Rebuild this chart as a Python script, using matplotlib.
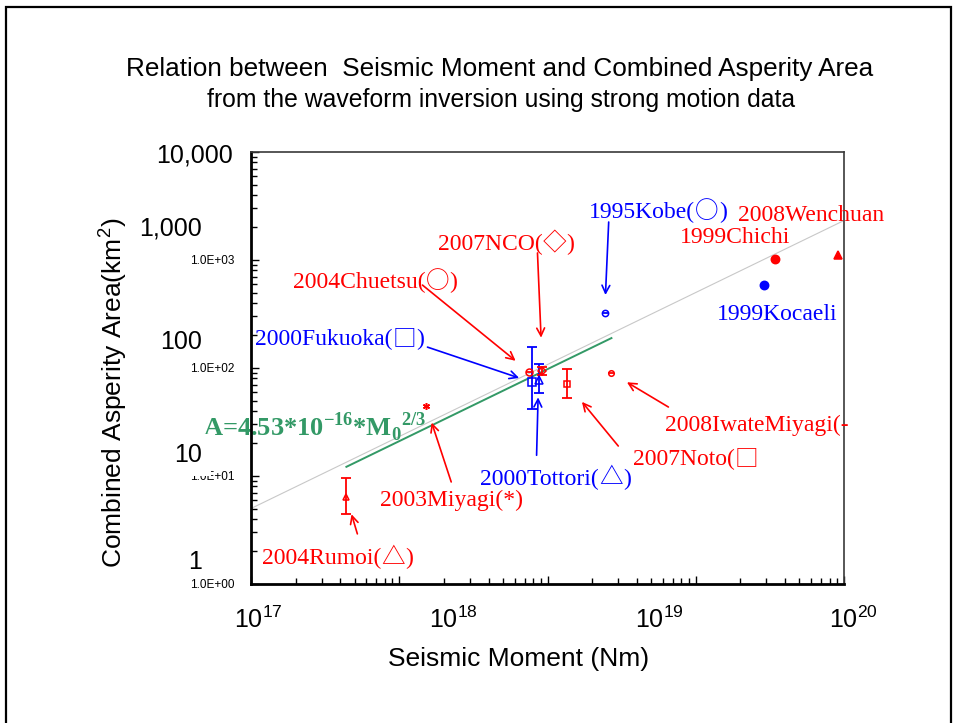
import numpy as np
import matplotlib
matplotlib.use('Agg')
import matplotlib.pyplot as plt
from matplotlib import font_manager
from matplotlib.patches import Rectangle
from matplotlib.ticker import LogLocator, FuncFormatter, NullFormatter

plt.rcParams['mathtext.fontset'] = 'custom'
plt.rcParams['mathtext.rm'] = 'Liberation Sans'
plt.rcParams['mathtext.bf'] = 'Liberation Serif:bold'

# seismic moment (Nm) and combined asperity area (km^2) per event
events = ['2004Rumoi', '2003Miyagi', '2000Fukuoka', '2000Tottori', '2004Chuetsu',
          '2007NCO', '2007Noto', '2008IwateMiyagi', '1995Kobe', '1999Chichi',
          '1999Kocaeli', '2008Wenchuan']
moment = [4.4e17, 1.52e18, 7.8e18, 8.7e18, 7.55e18,
          9.25e18, 1.36e19, 2.7e19, 2.43e19, 3.42e20,
          2.88e20, 9.1e20]
area = [6.4, 44.5, 74, 77, 91.8,
        93.8, 71, 89.9, 323, 1021,
        587, 1112]
area_low = [4.45, None, 41.7, 58.7, None, 86, 52.7, None, None, None, None, None]
area_high = [9.6, None, 156, 109, None, 102, 98, None, None, None, None, None]

# A = c * M0^(2/3), M0 in dyne-cm
somerville_coef = 5.0e-16
fit_coef = 4.53e-16
fit_range = [4.4e17, 2.7e19]

x_labels = ['17', '18', '19', '20']
y_labels = ['1', '10', '100', '1,000', '10,000']

RED = '#ff0000'
BLUE = '#0000ff'
GREEN = '#339966'
SERIF = 'Liberation Serif'
SYMBOL_FONT = 'Noto Sans CJK JP'
SYMBOLS = '○◇□△'

installed = {f.name for f in font_manager.fontManager.ttflist}
if 'Liberation Sans Narrow' in installed:
    TITLE_FONT, title_size, sub_size = 'Liberation Sans Narrow', 22.5, 20.5
else:
    TITLE_FONT, title_size, sub_size = 'Liberation Sans', 18.8, 17.8


def asperity_area(m0_nm, coef):
    return coef * (np.asarray(m0_nm) * 1e7) ** (2.0 / 3.0)


def split_label(text):
    # pieces of a label, with the shape symbols set in a CJK font so they come out full width
    parts, cur = [], ''
    for ch in text:
        if ch in SYMBOLS:
            if cur:
                parts.append((cur, SERIF))
            parts.append((ch, SYMBOL_FONT))
            cur = ''
        else:
            cur += ch
    if cur:
        parts.append((cur, SERIF))
    return parts


def place_label(ax, x, y, text, color, size=17):
    parts = split_label(text)
    prev = ax.text(x, y, parts[0][0], transform=ax.transAxes, color=color, fontsize=size,
                   family=parts[0][1], ha='left', va='center', clip_on=False, zorder=5)
    for s, fam in parts[1:]:
        prev = ax.annotate(s, xy=(1, 0), xycoords=prev, color=color, fontsize=size,
                           family=fam, ha='left', va='bottom', annotation_clip=False, zorder=5)


fig = plt.figure(figsize=(9.55, 7.23), dpi=100)
ax = fig.add_axes([251 / 955, 1 - 584 / 723, 593 / 955, 432 / 723])
ax.set_xscale('log')
ax.set_yscale('log')
ax.set_xlim(1e17, 1e21)
ax.set_ylim(1, 1e4)

# outer frame of the slide
fig.add_artist(Rectangle((6 / 955, -0.05), 945 / 955, 1.05 - 7 / 723,
                         transform=fig.transFigure, fill=False, lw=1.6, ec='black'))

# scaling lines
xx = np.array(ax.get_xlim())
ax.plot(xx, asperity_area(xx, somerville_coef), color='#c8c8c8', lw=0.8, zorder=1)
xf = np.array(fit_range)
ax.plot(xf, asperity_area(xf, fit_coef), color=GREEN, lw=1.4, zorder=2)

styles = {
    '2004Rumoi': dict(color=RED, marker='^', mfc='none', ms=4.5),
    '2003Miyagi': dict(color=RED, marker=(6, 2, 0), ms=5),
    '2000Fukuoka': dict(color=BLUE, marker='s', mfc='none', ms=5.5),
    '2000Tottori': dict(color=BLUE, marker='^', mfc='none', ms=6),
    '2004Chuetsu': dict(color=RED, marker='o', mfc='none', ms=5),
    '2007NCO': dict(color=RED, marker='D', mfc='none', ms=4),
    '2007Noto': dict(color=RED, marker='s', mfc='none', ms=5),
    '2008IwateMiyagi': dict(color=RED, marker='o', mfc='none', ms=4),
    '1995Kobe': dict(color=BLUE, marker='o', mfc='none', ms=4.5),
    '1999Chichi': dict(color=RED, marker='o', ms=6),
    '1999Kocaeli': dict(color=BLUE, marker='o', ms=6),
    '2008Wenchuan': dict(color=RED, marker='^', ms=6),
}
theta = {'2004Chuetsu', '2008IwateMiyagi', '1995Kobe'}

for name, m, a, lo, hi in zip(events, moment, area, area_low, area_high):
    st = styles[name]
    if lo is not None:
        ax.errorbar([m], [a], yerr=[[a - lo], [hi - a]], fmt='none',
                    ecolor=st['color'], elinewidth=1.3, capsize=3.5, capthick=1.3, zorder=3)
    ax.plot([m], [a], linestyle='none', mew=1.1, zorder=4, **st)
    if name in theta:
        ax.plot([m], [a], linestyle='none', marker='_', color=st['color'],
                ms=st['ms'], mew=1.3, zorder=4)

# labels: (text, colour, left/centre position in axes fraction, event, arrow start offset pts, shrink pts)
notes = [
    ('2004Chuetsu(○)', RED, (0.071, 0.699), '2004Chuetsu', (-77, 62.6), 12.8),
    ('2007NCO(◇)', RED, (0.315, 0.785), '2007NCO', (-3.6, 85), 24),
    ('2000Fukuoka(□)', BLUE, (0.0067, 0.565), '2000Fukuoka', (-74.9, 25.2), 9.4),
    ('1995Kobe(○)', BLUE, (0.570, 0.861), '1995Kobe', (2.9, 65.5), 13),
    ('2003Miyagi(*)', RED, (0.2175, 0.194), '2003Miyagi', (18, -54.7), 12.6),
    ('2000Tottori(△)', BLUE, (0.387, 0.243), '2000Tottori', (-1.4, -54), 12.3),
    ('2007Noto(□', RED, (0.644, 0.288), '2007Noto', (36.7, -44.6), 16.6),
    ('2008IwateMiyagi(-', RED, (0.698, 0.366), '2008IwateMiyagi', (41, -24.5), 13),
    ('2004Rumoi(△)', RED, (0.0185, 0.060), '2004Rumoi', (7.9, -26.6), 13),
    ('2008Wenchuan', RED, (0.821, 0.854), None, None, 0),
    ('1999Chichi', RED, (0.723, 0.801), None, None, 0),
    ('1999Kocaeli', BLUE, (0.786, 0.623), None, None, 0),
]
for text, col, pos, ev, start, shrink in notes:
    place_label(ax, pos[0], pos[1], text, col)
    if ev is not None:
        i = events.index(ev)
        ax.annotate('', xy=(moment[i], area[i]), xytext=start, textcoords='offset points',
                    arrowprops=dict(arrowstyle='->', color=col, lw=1.2,
                                    shrinkA=0, shrinkB=shrink, mutation_scale=14),
                    annotation_clip=False, zorder=5)

ax.text(-0.081, 0.363,
        r'A=4.53*10$^{\mathbf{-16}}$*M$_{\mathbf{0}}$$^{\mathbf{2/3}}$',
        transform=ax.transAxes, color=GREEN, fontsize=19, family='Liberation Serif',
        fontweight='bold', ha='left', va='center', clip_on=False, zorder=2)

# spines and ticks
for side in ['left', 'bottom']:
    ax.spines[side].set_linewidth(2.0)
    ax.spines[side].set_color('black')
for side in ['top', 'right']:
    ax.spines[side].set_linewidth(1.2)
    ax.spines[side].set_color('#3a3a3a')

ax.xaxis.set_major_locator(LogLocator(base=10, numticks=10))
ax.xaxis.set_minor_locator(LogLocator(base=10, subs=np.arange(2, 10), numticks=20))
ax.yaxis.set_major_locator(LogLocator(base=10, numticks=10))
ax.yaxis.set_minor_locator(LogLocator(base=10, subs=np.arange(2, 10), numticks=20))
ax.xaxis.set_major_formatter(NullFormatter())
ax.xaxis.set_minor_formatter(NullFormatter())
ax.yaxis.set_minor_formatter(NullFormatter())
ax.yaxis.set_major_formatter(FuncFormatter(
    lambda v, p: '' if v > 1.5e3 else '1.0E+%02d' % int(round(np.log10(v)))))
ax.tick_params(which='both', direction='in', top=False, right=False, width=1.0)
ax.tick_params(which='major', length=6)
ax.tick_params(which='minor', length=4)
ax.tick_params(axis='y', which='major', labelsize=8.5, pad=12)
for lab in ax.get_yticklabels():
    lab.set_family('Liberation Sans')

# decade labels
x_pos = [0.013, 0.342, 0.688, 1.015]
for fx, e in zip(x_pos, x_labels):
    ax.text(fx, -0.083, '10$^{%s}$' % e, transform=ax.transAxes, fontsize=18,
            family='Liberation Sans', ha='center', va='center', clip_on=False)
y_pos = [0.051, 0.299, 0.560, 0.824, 0.993]
for fy, lab in zip(y_pos, y_labels):
    fx = -0.030 if lab == '10,000' else -0.083
    bbox = dict(fc='white', ec='none', pad=6.5) if lab == '10' else None
    ax.text(fx, fy, lab, transform=ax.transAxes, fontsize=18, family='Liberation Sans',
            ha='right', va='center', clip_on=False, bbox=bbox, zorder=6)

fig.text(519 / 955, 1 - 659 / 723, 'Seismic Moment (Nm)', fontsize=19,
         family='Liberation Sans', ha='center', va='center')
fig.text(113 / 955, 1 - 393 / 723, 'Combined Asperity Area(km$^2$)', fontsize=19,
         family='Liberation Sans', ha='center', va='center', rotation=90)

fig.text(500 / 955, 1 - 69 / 723, 'Relation between  Seismic Moment and Combined Asperity Area',
         fontsize=title_size, family=TITLE_FONT, ha='center', va='center')
fig.text(501 / 955, 1 - 100 / 723, 'from the waveform inversion using strong motion data',
         fontsize=sub_size, family=TITLE_FONT, ha='center', va='center')

fig.savefig('out.png', dpi=100)
